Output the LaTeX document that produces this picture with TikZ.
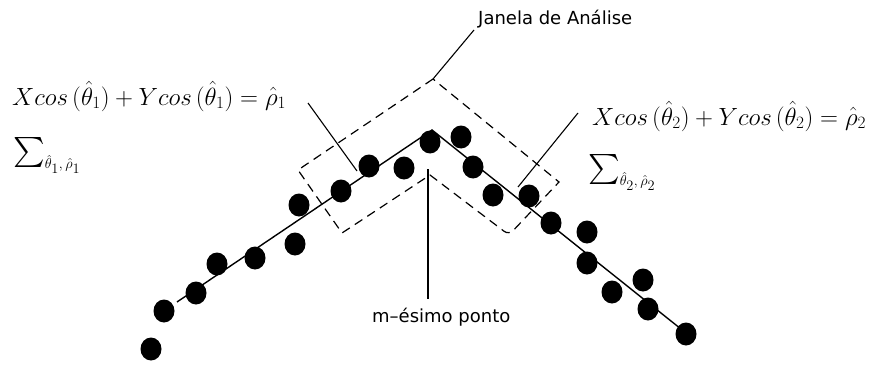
\documentclass[tikz,border=0pt]{standalone}
\usepackage{amsmath, amssymb}
\usepackage{fontspec}
\usepackage{tikz}
\usetikzlibrary{shapes.geometric}
\newfontfamily\labelfont{DejaVu Sans}

\begin{document}
\begin{tikzpicture}[x=1pt, y=-1pt,
    dot/.style={ellipse, fill=black, inner sep=0pt, minimum width=21pt, minimum height=23pt},
    fitline/.style={black, line width=1.4pt},
    window/.style={black, line width=1.2pt, dash pattern=on 9pt off 6pt},
    pointer/.style={black, line width=1.1pt},
    eqlabel/.style={inner sep=0pt, font=\fontsize{25}{30}\selectfont},
    sumlabel/.style={inner sep=0pt, font=\fontsize{30}{34}\selectfont},
    txtlabel/.style={inner sep=0pt, font=\labelfont\fontsize{18}{22}\selectfont}]
\useasboundingbox (0,0) rectangle (878,369);
% labels
\node[eqlabel, anchor=base west] (eqA) at (12,105)
    {$Xcos\,(\hat{\theta}_1)+Ycos\,(\hat{\theta}_1)=\hat{\rho}_1$};
\node[eqlabel, anchor=base west] (eqB) at (592,125)
    {$Xcos\,(\hat{\theta}_2)+Ycos\,(\hat{\theta}_2)=\hat{\rho}_2$};
\node[sumlabel, anchor=base west] (sumA) at (13,159)
    {$\sum_{\scriptscriptstyle\hat{\theta}_1,\,\hat{\rho}_1}$};
\node[sumlabel, anchor=base west] (sumB) at (588,176)
    {$\sum_{\scriptscriptstyle\hat{\theta}_2,\,\hat{\rho}_2}$};
\node[txtlabel, anchor=base west] (janela) at (478,25) {Janela de Análise};
\node[txtlabel, anchor=base west] (mponto) at (372,322) {m–ésimo ponto};
% fitted lines
\coordinate (L0) at (177,302);
\coordinate (P)  at (432,130);
\coordinate (R0) at (681,329);
\draw[fitline] (L0) -- (P) -- (R0);
% analysis window
\coordinate (w1) at (433,79);
\coordinate (w2) at (298,170);
\coordinate (w3) at (342,233);
\coordinate (w4) at (430,175);
\coordinate (w5) at (509,235);
\coordinate (w6) at (559,182);
\draw[window] (w1) -- (w2) -- (w3) -- (w4) [rounded corners=6pt]-- (w5) [sharp corners]-- (w6) -- cycle;
% pointers
\coordinate (jtip) at (474,30);
\coordinate (atip) at (308,103);
\coordinate (aend) at (357,171);
\coordinate (btip) at (578,113);
\coordinate (bend) at (518,187);
\coordinate (mtop) at (428,169);
\coordinate (mbot) at (428,299);
\draw[pointer] (jtip) -- (w1);
\draw[pointer] (atip) -- (aend);
\draw[pointer] (btip) -- (bend);
\draw[pointer] (mtop) -- (mbot);
% data points
\foreach \px/\py [count=\i] in {151/349, 164/311, 196/293, 217/264, 255/258, 295/244,
    299/205, 341/191, 369/166, 404/168, 430/142, 461/137, 473/167, 493/195, 529/196,
    551/223, 587/232, 587/263, 612/292, 643/280, 648/309, 686/334}{
    \node[dot] (d\i) at (\px,\py) {};
}
\end{tikzpicture}
\end{document}
